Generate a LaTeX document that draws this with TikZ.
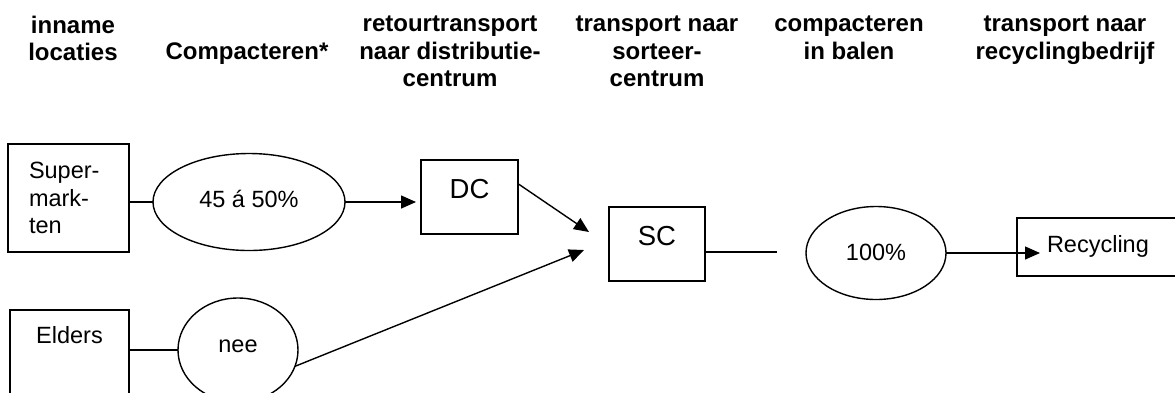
\documentclass[tikz,border=0pt]{standalone}
\usepackage{fontspec}
\setmainfont{Liberation Sans}
\usetikzlibrary{arrows.meta,shapes.geometric,calc}
\begin{document}
\begin{tikzpicture}[x=1pt,y=-1pt,
  line width=1.4pt,
  every node/.style={inner sep=0pt, outer sep=0pt},
  hdr/.style={font=\fontsize{24}{27.5}\bfseries, align=center, anchor=north},
  body/.style={font=\fontsize{23.5}{27.5}\selectfont},
  big/.style={font=\fontsize{27.5}{30}\selectfont},
  box/.style={draw, rectangle, line width=1.4pt, body},
  oval/.style={draw, ellipse, line width=1.4pt, body, text depth=0pt},
  arr/.style={-{Triangle[length=15pt,width=13pt]}}
]
\useasboundingbox (0,0) rectangle (1175,392);

% headers
\node[hdr] (h1) at (73,16) {inname\\locaties};
\node[hdr] (h2) at (247,43) {Compacteren*};
\node[hdr] (h3) at (450,16) {retourtransport\\naar distributie-\\centrum};
\node[hdr] (h4) at (657,16) {transport naar\\sorteer-\\centrum};
\node[hdr] (h5) at (849,16) {compacteren\\in balen};
\node[hdr] (h6) at (1065,16) {transport naar\\recyclingbedrijf};

% nodes
\node[box, minimum width=121, minimum height=108, text width=79, align=left, inner xsep=21] (sup) at (68.5,198) {Super-\\mark-\\ten};
\node[box, anchor=north, minimum width=119, text height=33, text depth=70] (eld) at (69.5,310) {Elders};
\node[oval, minimum width=192, minimum height=97, text height=11] (e45) at (249,202) {45 á 50\%};
\node[oval, minimum width=120, minimum height=104, text height=4] (nee) at (238,350) {nee};
\node[box, big, anchor=north west, minimum width=97, text height=38, text depth=36] (dc) at (421,160) {DC};
\node[box, big, anchor=north west, minimum width=96, text height=38, text depth=36] (sc) at (609,207) {SC};
\node[oval, minimum width=140, minimum height=93, text height=14] (e100) at (876,253) {100\%};
\node[box, anchor=north west, minimum width=180, minimum height=58, text width=120, inner xsep=30, align=left, text height=10, text depth=0] (rec) at (1017,218) {Recycling};

% free ends
\coordinate (t1) at (589,232);
\coordinate (t2) at (584,250);
\coordinate (scend) at (777,252);
\coordinate (rtip) at (1040,253);

% connectors
\draw (sup.east |- e45.west) -- (e45.west);
\draw[arr, shorten >=5pt] (e45.east) -- (e45.east -| dc.west);
\draw[arr] ($(dc.north east)!0.32!(dc.south east)$) -- (t1);
\draw (eld.east |- nee.west) -- (nee.west);
\draw[arr] (nee.-16) -- (t2);
\draw (sc.east |- scend) -- (scend);
\draw[arr] (e100.east) -- (e100.east -| rtip);
\end{tikzpicture}
\end{document}
